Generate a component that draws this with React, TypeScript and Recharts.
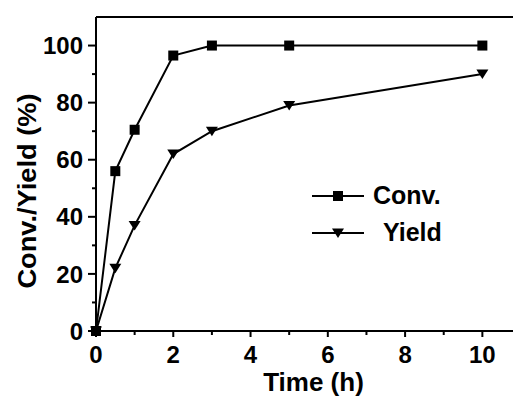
import React from 'react';
import { LineChart, Line, XAxis, YAxis, ReferenceLine, Legend } from 'recharts';

const times = [0, 0.5, 1, 2, 3, 5, 10];
const convValues = [0, 56, 70.5, 96.5, 100, 100, 100];
const yieldValues = [0, 22, 37, 62, 70, 79, 90];
const xTicks = [0, 1, 2, 3, 4, 5, 6, 7, 8, 9, 10];
const xLabeled = [0, 2, 4, 6, 8, 10];
const yTicks = [0, 10, 20, 30, 40, 50, 60, 70, 80, 90, 100];
const yLabeled = [0, 20, 40, 60, 80, 100];
const seriesNames = { conv: 'Conv.', yld: 'Yield' };

const data = times.map((t, i) => ({ time: t, conv: convValues[i], yld: yieldValues[i] }));

const FONT = '"Liberation Sans", Arial, sans-serif';

const XTick = (props: any) => {
  const { x, y, payload } = props;
  const major = xLabeled.includes(payload.value);
  return (
    <g>
      <line x1={x} x2={x} y1={y} y2={y + (major ? 6 : 4)} stroke="#000" strokeWidth={2} />
      {major && (
        <text x={x} y={y + 15} dy="0.71em" textAnchor="middle" fontFamily={FONT} fontWeight="bold" fontSize={24} fill="#000">
          {payload.value}
        </text>
      )}
    </g>
  );
};

const YTick = (props: any) => {
  const { x, y, payload } = props;
  const major = yLabeled.includes(payload.value);
  return (
    <g>
      <line x1={x - (major ? 8 : 4)} x2={x} y1={y} y2={y} stroke="#000" strokeWidth={2} />
      {major && (
        <text x={x - 13} y={y} dy="0.36em" textAnchor="end" fontFamily={FONT} fontWeight="bold" fontSize={24} fill="#000">
          {payload.value}
        </text>
      )}
    </g>
  );
};

const SquareDot = (props: any) => {
  const { cx, cy } = props;
  if (cx == null || cy == null) return null;
  return <rect x={cx - 5} y={cy - 5} width={10} height={10} fill="#000" />;
};

const TriDot = (props: any) => {
  const { cx, cy } = props;
  if (cx == null || cy == null) return null;
  return <polygon points={`${cx - 6},${cy - 4.5} ${cx + 6},${cy - 4.5} ${cx},${cy + 5}`} fill="#000" />;
};

const XLabel = (props: any) => {
  const vb = props.viewBox || {};
  return (
    <text x={vb.x + vb.width / 2 + 5} y={vb.y + 60} textAnchor="middle" fontFamily={FONT} fontWeight="bold" fontSize={26} fill="#000">
      Time (h)
    </text>
  );
};

const YLabel = (props: any) => {
  const vb = props.viewBox || {};
  const cy = vb.y + vb.height / 2 + 17;
  return (
    <text
      transform={`translate(27, ${cy}) rotate(-90) scale(1.09, 1)`}
      x={0}
      y={0}
      dy="0.36em"
      textAnchor="middle"
      fontFamily={FONT}
      fontWeight="bold"
      fontSize={25}
      fill="#000"
    >
      Conv./Yield (%)
    </text>
  );
};

const LegendContent = (props: any) => {
  const payload = props.payload || [];
  return (
    <div style={{ fontFamily: FONT, fontWeight: 'bold', fontSize: 25, color: '#000' }}>
      {payload.map((p: any, i: number) => (
        <div key={i} style={{ display: 'flex', alignItems: 'center', height: 37 }}>
          <svg width={52} height={14} style={{ display: 'block' }}>
            <line x1={0} x2={52} y1={7} y2={7} stroke="#000" strokeWidth={2} />
            {p.dataKey === 'conv' ? (
              <rect x={21} y={2} width={10} height={10} fill="#000" />
            ) : (
              <polygon points="20,2.5 32,2.5 26,12" fill="#000" />
            )}
          </svg>
          <span style={{ marginLeft: p.dataKey === 'conv' ? 9 : 19, lineHeight: '25px' }}>{p.value}</span>
        </div>
      ))}
    </div>
  );
};

export default function App() {
  return (
    <div style={{ position: 'absolute', left: 0, top: 0, width: 513, height: 397, overflow: 'hidden', background: '#fff' }}>
      <LineChart width={540} height={397} data={data} margin={{ top: 17, right: 19, bottom: 0, left: 0 }}>
        <XAxis
          dataKey="time"
          type="number"
          domain={[0, 11]}
          ticks={xTicks}
          interval={0}
          height={66}
          tickSize={0}
          tickMargin={0}
          tickLine={false}
          tick={<XTick />}
          axisLine={{ stroke: '#000', strokeWidth: 2 }}
          label={<XLabel />}
        />
        <YAxis
          type="number"
          domain={[0, 110]}
          ticks={yTicks}
          interval={0}
          width={96}
          tickSize={0}
          tickMargin={0}
          tickLine={false}
          tick={<YTick />}
          axisLine={{ stroke: '#000', strokeWidth: 2 }}
          label={<YLabel />}
        />
        <ReferenceLine y={110} stroke="#000" strokeWidth={2} />
        <Legend
          layout="vertical"
          align="center"
          verticalAlign="middle"
          content={<LegendContent />}
          wrapperStyle={{ left: 312, top: 177, width: 'auto', height: 'auto' }}
        />
        <Line
          type="linear"
          dataKey="conv"
          name={seriesNames.conv}
          stroke="#000"
          strokeWidth={2}
          dot={<SquareDot />}
          activeDot={false}
          isAnimationActive={false}
        />
        <Line
          type="linear"
          dataKey="yld"
          name={seriesNames.yld}
          stroke="#000"
          strokeWidth={2}
          dot={<TriDot />}
          activeDot={false}
          isAnimationActive={false}
        />
      </LineChart>
    </div>
  );
}
